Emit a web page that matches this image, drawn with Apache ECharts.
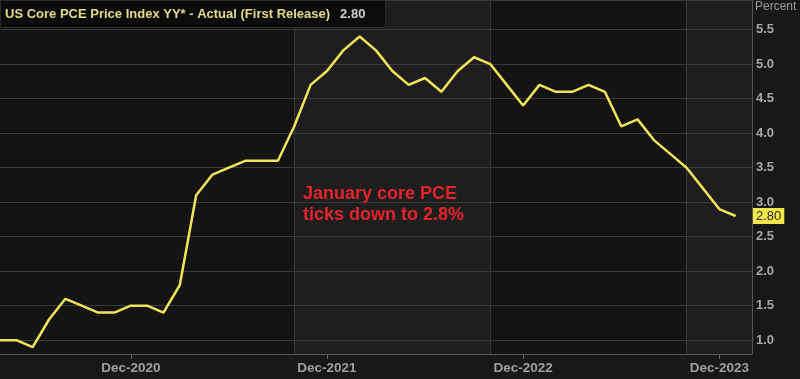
<!DOCTYPE html>
<html>
<head>
<meta charset="utf-8">
<script src="https://cdn.jsdelivr.net/npm/echarts@6/dist/echarts.min.js"></script>
<style>
html,body{margin:0;padding:0;background:#181818;}
#c{width:800px;height:379px;}
</style>
</head>
<body>
<div id="c"></div>
<script>
const months = [
  'Apr-2020','May-2020','Jun-2020','Jul-2020','Aug-2020','Sep-2020','Oct-2020','Nov-2020','Dec-2020',
  'Jan-2021','Feb-2021','Mar-2021','Apr-2021','May-2021','Jun-2021','Jul-2021','Aug-2021','Sep-2021','Oct-2021','Nov-2021','Dec-2021',
  'Jan-2022','Feb-2022','Mar-2022','Apr-2022','May-2022','Jun-2022','Jul-2022','Aug-2022','Sep-2022','Oct-2022','Nov-2022','Dec-2022',
  'Jan-2023','Feb-2023','Mar-2023','Apr-2023','May-2023','Jun-2023','Jul-2023','Aug-2023','Sep-2023','Oct-2023','Nov-2023','Dec-2023',
  'Jan-2024','Feb-2024'
];
const corePCE = [
  1.0,1.0,0.9,1.3,1.6,1.5,1.4,1.4,1.5,
  1.5,1.4,1.8,3.1,3.4,3.5,3.6,3.6,3.6,4.1,4.7,4.9,
  5.2,5.4,5.2,4.9,4.7,4.8,4.6,4.9,5.1,5.0,4.7,4.4,
  4.7,4.6,4.6,4.7,4.6,4.1,4.2,3.9,3.7,3.5,3.2,2.9,
  2.8,'-'
];
const latestValue = 2.80;
const tickMonths = ['Dec-2020','Dec-2021','Dec-2022','Dec-2023'];
const bandMonths = ['Oct-2021','Oct-2022','Oct-2023'];

const chart = echarts.init(document.getElementById('c'), null, {renderer:'canvas'});
const lastCat = months[months.length-1];
const FONT = 'Liberation Sans, Arial, sans-serif';
const option = {
  backgroundColor: '#181818',
  animation: false,
  title: [
    {
      left: 0, top: 0,
      padding: [5, 20, 5, 5],
      backgroundColor: '#0b0b0b',
      borderColor: '#2c2c2c', borderWidth: 1,
      text: '{a|US Core PCE Price Index YY* - Actual (First Release)}  {b|' + latestValue.toFixed(2) + '}',
      textStyle: {
        rich: {
          a: {color: '#e4da88', fontSize: 13, fontFamily: FONT},
          b: {color: '#cfcfcf', fontSize: 13, fontFamily: FONT}
        }
      }
    },
    {
      left: 755, top: 1,
      padding: 0,
      text: 'Percent',
      textStyle: {color: '#9a9a9a', fontSize: 12, fontWeight: 'normal', fontFamily: FONT}
    },
    {
      left: 303, top: 184,
      padding: 0,
      text: 'January core PCE\nticks down to 2.8%',
      textStyle: {color: '#e4232b', fontSize: 18, fontWeight: 'bold', lineHeight: 21, fontFamily: FONT}
    }
  ],
  grid: {left: -2, right: 48, top: 0, bottom: 25, containLabel: false},
  xAxis: {
    type: 'category',
    data: months,
    boundaryGap: false,
    z: 3,
    axisLine: {show: true, lineStyle: {color: '#555', width: 1}},
    axisTick: {
      show: true, length: 5, lineStyle: {color: '#666'},
      interval: (i, v) => tickMonths.indexOf(v) >= 0
    },
    axisLabel: {
      interval: (i, v) => tickMonths.indexOf(v) >= 0,
      color: '#a0a0a0', fontSize: 13.5, fontWeight: 'bold', margin: 7,
      fontFamily: FONT
    },
    splitLine: {
      show: true,
      interval: (i, v) => bandMonths.indexOf(v) >= 0,
      lineStyle: {color: '#383838', width: 1}
    }
  },
  yAxis: {
    type: 'value',
    position: 'right',
    min: 0.8, max: 5.93,
    splitNumber: 10,
    minInterval: 0.5, maxInterval: 0.5,
    z: 3,
    axisLine: {show: true, lineStyle: {color: '#555'}},
    axisTick: {show: false},
    axisLabel: {
      color: '#a8a8a8', fontSize: 13, fontWeight: 'bold', margin: 4,
      showMinLabel: false, showMaxLabel: false,
      formatter: v => v.toFixed(1),
      fontFamily: FONT
    },
    splitLine: {show: true, lineStyle: {color: '#3a3a3a', width: 1}}
  },
  series: [
    {
      type: 'line',
      data: [],
      z: 1,
      silent: true,
      markArea: {
        silent: true,
        z: 1,
        data: [
          [{xAxis: months[0], itemStyle: {color: '#141414'}}, {xAxis: bandMonths[0]}],
          [{xAxis: bandMonths[0], itemStyle: {color: '#1e1e1e'}}, {xAxis: bandMonths[1]}],
          [{xAxis: bandMonths[1], itemStyle: {color: '#141414'}}, {xAxis: bandMonths[2]}],
          [{xAxis: bandMonths[2], itemStyle: {color: '#1e1e1e'}}, {xAxis: lastCat}]
        ]
      }
    },
    {
      type: 'line',
      data: corePCE,
      symbol: 'none',
      lineStyle: {color: '#f2e45a', width: 2.5},
      z: 5,
      markLine: {
        silent: true,
        symbol: 'none',
        z: 6,
        lineStyle: {color: 'rgba(0,0,0,0)', width: 0},
        data: [{yAxis: latestValue}],
        label: {
          show: true, position: 'end', distance: 1,
          formatter: latestValue.toFixed(2),
          backgroundColor: '#f2e64a', color: '#2a2a2a',
          padding: [2, 3, 1, 3], fontSize: 13,
          fontFamily: FONT
        }
      }
    }
  ]
};
chart.setOption(option);
</script>
</body>
</html>
